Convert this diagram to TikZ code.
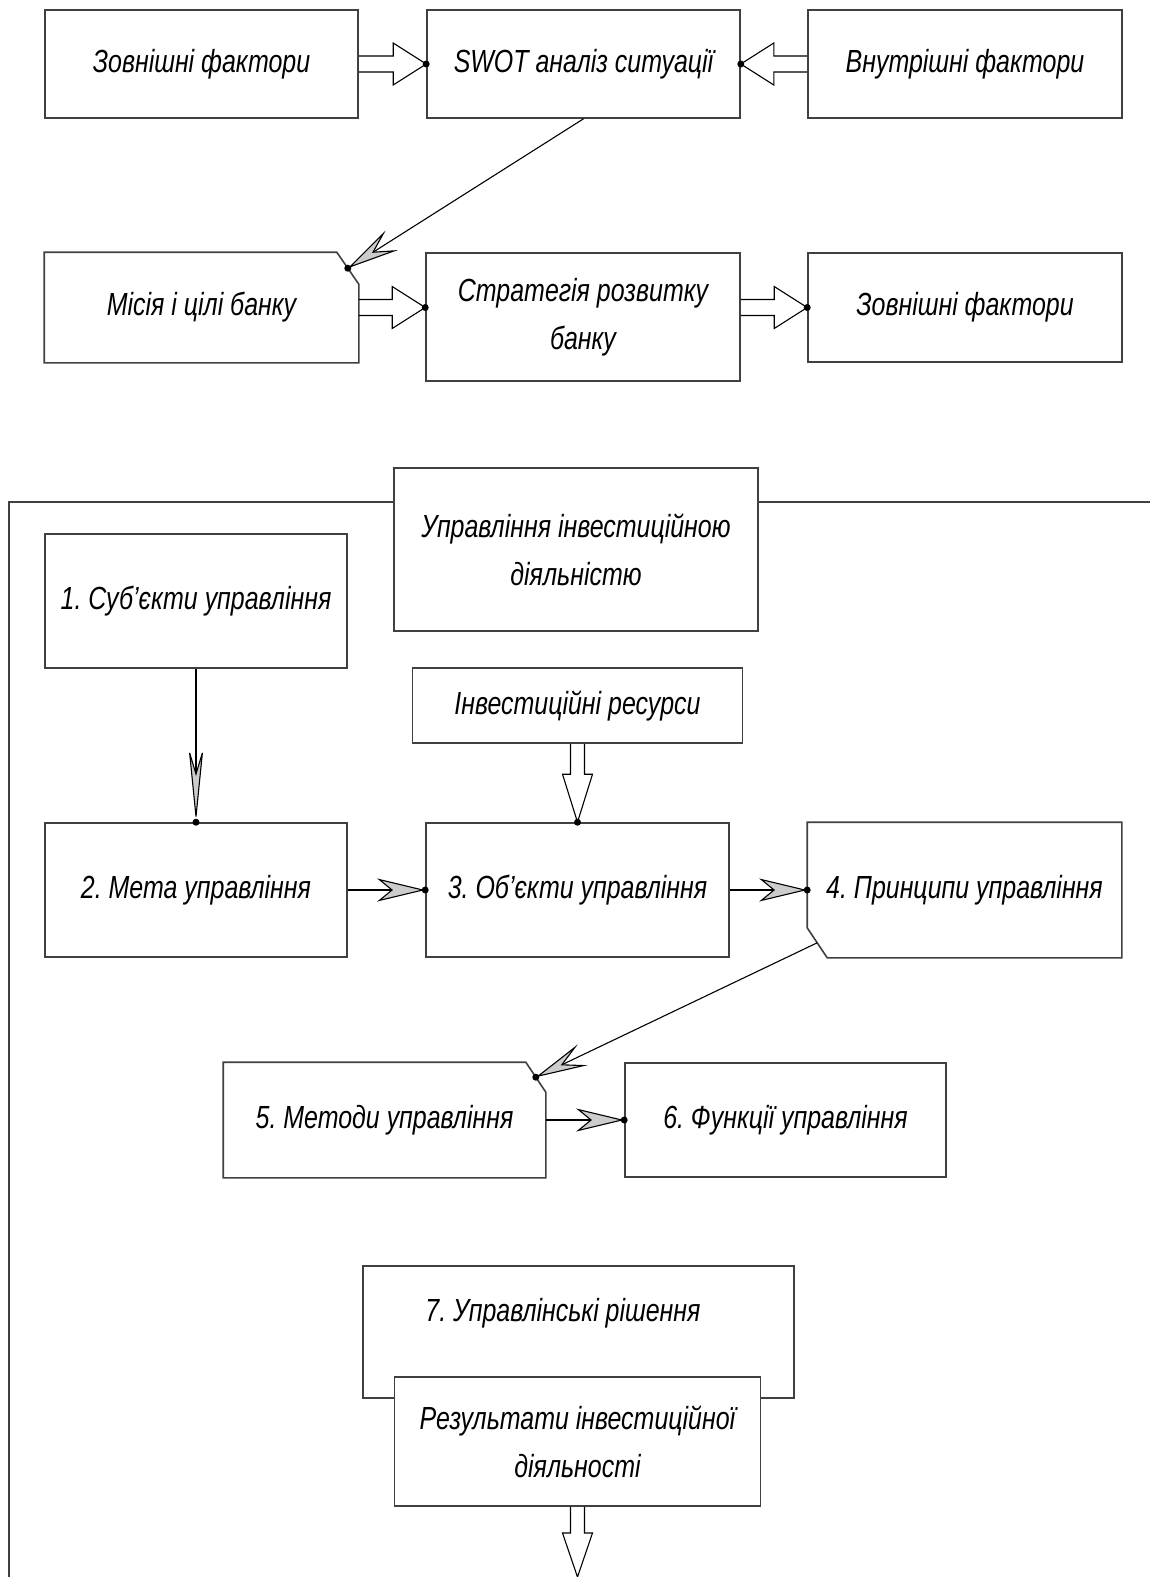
\documentclass[tikz,border=0pt]{standalone}
\usepackage{fontspec}
\setmainfont{Liberation Sans}[FakeStretch=0.78]
\frenchspacing
\usetikzlibrary{positioning,calc,arrows.meta}
\tikzset{%
	block-line/.style={
		draw=black!75,
		line width=1.6pt
	},
	block/.style={
		block-line,
		fill=white,
		inner sep=0pt,
		align=center,
		font=\itshape\fontsize{32}{48}\selectfont
	},
	block-cut/.style={ block, draw=none, fill=none },
	label-text/.style={ inner sep=0pt, align=center, font=\itshape\fontsize{32}{48}\selectfont },
	wh/.style 2 args={ minimum width=#1pt, minimum height=#2pt },
	arrow-barb/.style n args={3}{
		draw=black,
		line width=1.1pt,
		-{Stealth[length=#1, width=#2, inset=#3, fill=black!20]}
	},
	arrow-fat/.style={ draw=black, line width=1.1pt, line join=miter },
	tip-dot/.style={ fill=black },
}
% hollow arrow: from, to, half shaft, half head, head length
\newcommand{\fatarrow}[5]{%
	\coordinate (fat-base) at ($(#2)!#5!(#1)$);
	\draw[arrow-fat] ($(#1)!#3!90:(#2)$) -- ($(fat-base)!#3!90:(#2)$) -- ($(fat-base)!#4!90:(#2)$) -- (#2)
		-- ($(fat-base)!#4!-90:(#2)$) -- ($(fat-base)!#3!-90:(#2)$) -- ($(#1)!#3!-90:(#2)$);
}

\begin{document}
\begin{tikzpicture}[x=1pt, y=-1pt]
\useasboundingbox (0,0) rectangle (1150,1577);

% strategy blocks
\node[block, wh={313}{108}] (za) at (201.5,64) {Зовнішні фактори};
\node[block, wh={313}{108}] (swot) at (583.5,64) {SWOT аналіз ситуації};
\node[block, wh={314}{108}] (vn) at (965,64) {Внутрішні фактори};
\node[block-cut, wh={313}{109}] (mis) at (201.5,307.5) {Місія і цілі банку};
\node[block, wh={314}{128}] (str) at (583,317) {Стратегія розвитку\\банку};
\node[block, wh={314}{109}] (za2) at (965,307.5) {Зовнішні фактори};
\draw[block-line] (mis.north west) -- ($(mis.north east)+(-22,0)$) coordinate (mis-c1)
	-- ($(mis.north east)+(0,32)$) coordinate (mis-c2) -- (mis.south east) -- (mis.south west) -- cycle;
\coordinate (mis-in) at ($(mis-c1)!.5!(mis-c2)$);

% strategy connections
\fatarrow{za.east}{swot.west}{8pt}{21pt}{33pt}
\fatarrow{vn.west}{swot.east}{8pt}{21pt}{33pt}
\coordinate (str-in) at (str.west |- mis.east);
\coordinate (str-out) at (str.east |- za2.west);
\fatarrow{mis.east}{str-in}{8pt}{21pt}{33pt}
\fatarrow{str-out}{za2.west}{8pt}{21pt}{33pt}
\draw[arrow-barb={52pt}{23pt}{21pt}] (swot.south) -- (mis-in);
\foreach \p in {swot.west, swot.east, str-in, za2.west, mis-in}
	\fill[tip-dot] (\p) circle (3.5pt);

% management frame
\draw[block-line] (1150,502) -- (9,502) -- (9,1577);

% management blocks
\node[block, wh={364}{163}] (ttl) at (576,549.5) {Управління інвестиційною\\діяльністю};
\node[block, wh={302}{134}] (s1) at (196,601) {1. Суб'єкти управління};
\node[block, wh={330}{75}] (res) at (577.5,705.5) {Інвестиційні ресурси};
\node[block, wh={302}{134}] (m2) at (196,890) {2. Мета управління};
\node[block, wh={303}{134}] (o3) at (577.5,890) {3. Об'єкти управління};
\node[block-cut, wh={313}{134}] (p4) at (964.5,890) {4. Принципи управління};
\node[block-cut, wh={321}{114}] (m5) at (384.5,1120) {5. Методи управління};
\node[block, wh={321}{114}] (f6) at (785.5,1120) {6. Функції управління};
\node[block, wh={431}{132}] (r7) at (578.5,1332) {};
\node[label-text] (r7-t) at (563,1313) {7. Управлінські рішення};
\node[block, wh={366}{129}] (rez) at (577.5,1441.5) {Результати інвестиційної\\діяльності};
\draw[block-line] (p4.north west) -- (p4.north east) -- (p4.south east)
	-- ($(p4.south west)+(20,0)$) coordinate (p4-c2) -- ($(p4.south west)+(0,-30)$) coordinate (p4-c1) -- cycle;
\draw[block-line] (m5.north west) -- ($(m5.north east)+(-20,0)$) coordinate (m5-c1)
	-- ($(m5.north east)+(0,30)$) coordinate (m5-c2) -- (m5.south east) -- (m5.south west) -- cycle;
\coordinate (p4-out) at ($(p4-c1)!.5!(p4-c2)$);
\coordinate (m5-in) at ($(m5-c1)!.5!(m5-c2)$);
\coordinate (out) at (rez.south |- 0,1577);

% management connections
\draw[arrow-barb={75pt}{15pt}{25pt}] (s1.south) -- (m2.north);
\fatarrow{res.south}{o3.north}{7pt}{15pt}{48pt}
\draw[arrow-barb={48pt}{23pt}{14pt}] (m2.east) -- (o3.west);
\draw[arrow-barb={48pt}{23pt}{14pt}] (o3.east) -- (p4.west);
\draw[arrow-barb={52pt}{23pt}{22pt}] (p4-out) -- (m5-in);
\draw[arrow-barb={48pt}{23pt}{14pt}] (m5.east) -- (f6.west);
\fatarrow{rez.south}{out}{7pt}{15pt}{44pt}
\foreach \p in {m2.north, o3.north, o3.west, p4.west, m5-in, f6.west}
	\fill[tip-dot] (\p) circle (3.5pt);

\end{tikzpicture}
\end{document}
